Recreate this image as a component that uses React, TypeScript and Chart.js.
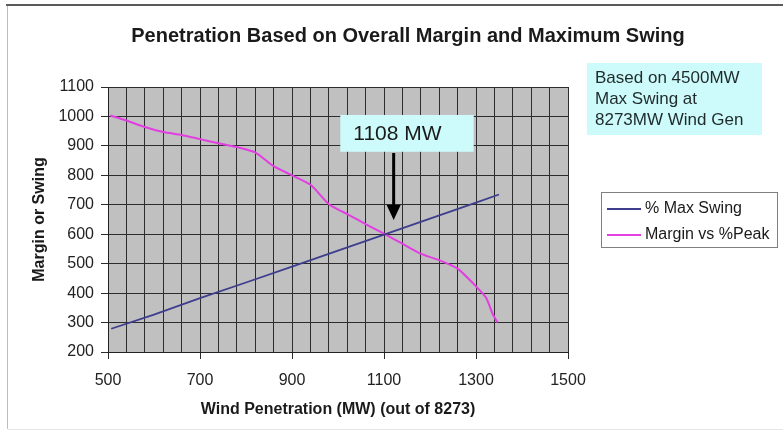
import React, { useEffect, useRef } from "react";
import { Chart, registerables } from "chart.js";

Chart.register(...registerables);

// ---- data ----
const swingX = [507, 600, 700, 800, 900, 1000, 1108, 1200, 1300, 1350];
const swingY = [279, 327, 383, 436, 490, 544, 603, 653, 707, 735];
const marginX = [505, 540, 580, 620, 660, 700, 740, 780, 820, 860, 900, 941, 981, 1023, 1062, 1102, 1141, 1181, 1221, 1260, 1300, 1322, 1336, 1347];
const marginY = [1003, 986, 964, 947, 937, 923, 909, 896, 878, 831, 800, 767, 701, 666, 633, 600, 567, 533, 511, 483, 423, 384, 330, 300];
const seriesNames = ["% Max Swing", "Margin vs %Peak"];
const seriesColors = ["#3e3e8e", "#e23ee2"];
const xMin = 500;
const xMax = 1500;
const xGridStep = 40;
const xLabelStep = 200;
const yMin = 200;
const yMax = 1100;
const yStep = 100;

const chartTitle = "Penetration Based on Overall Margin and Maximum Swing";
const xTitle = "Wind Penetration (MW) (out of 8273)";
const yTitle = "Margin or Swing";
const noteLines = ["Based on 4500MW", "Max Swing at", "8273MW Wind Gen"];
const calloutText = "1108 MW";
// callout & arrow in data units
const calloutBox = { x0: 1005, x1: 1295, y0: 880, y1: 1005 };
const arrow = { x: 1121, from: 876, to: 648 };

const FONT = '"Liberation Sans", Arial, Helvetica, sans-serif';

const toPoints = (xs: number[], ys: number[]) => xs.map((x, i) => ({ x, y: ys[i] }));

const decorPlugin = {
  id: "decor",
  beforeDraw(chart: any) {
    const { ctx, chartArea } = chart;
    ctx.save();
    ctx.fillStyle = "#ffffff";
    ctx.fillRect(0, 0, chart.width, chart.height);
    // outer frame
    ctx.strokeStyle = "#5a5a5a";
    ctx.lineWidth = 2;
    ctx.beginPath();
    ctx.moveTo(6, 5);
    ctx.lineTo(chart.width, 5);
    ctx.stroke();
    ctx.strokeStyle = "#bdbdbd";
    ctx.lineWidth = 1;
    ctx.beginPath();
    ctx.moveTo(7.5, 6);
    ctx.lineTo(7.5, 429);
    ctx.stroke();
    ctx.strokeStyle = "#e6e6e6";
    ctx.beginPath();
    ctx.moveTo(8, 429.5);
    ctx.lineTo(chart.width, 429.5);
    ctx.stroke();
    // plot background
    ctx.fillStyle = "#c0c0c0";
    ctx.fillRect(chartArea.left, chartArea.top, chartArea.right - chartArea.left, chartArea.bottom - chartArea.top);
    ctx.restore();
  },
  afterDraw(chart: any) {
    const { ctx, chartArea, scales } = chart;
    const xs = scales.x;
    const ys = scales.y;
    ctx.save();
    ctx.fillStyle = "#1a1a1a";
    ctx.textBaseline = "middle";
    // title
    ctx.font = `bold 20px ${FONT}`;
    ctx.textAlign = "center";
    ctx.fillText(chartTitle, 408, 36);
    // x title
    ctx.font = `bold 16px ${FONT}`;
    ctx.fillText(xTitle, (chartArea.left + chartArea.right) / 2, 410);
    // y title
    ctx.save();
    ctx.translate(40, (chartArea.top + chartArea.bottom) / 2);
    ctx.rotate(-Math.PI / 2);
    ctx.fillText(yTitle, 0, 0);
    ctx.restore();

    // note box
    ctx.fillStyle = "#cdfafa";
    ctx.fillRect(587, 63, 175, 72);
    ctx.fillStyle = "#1f2a2a";
    ctx.font = `17px ${FONT}`;
    ctx.textAlign = "left";
    noteLines.forEach((l, i) => ctx.fillText(l, 595, 78 + i * 21));

    // callout box
    const bx0 = xs.getPixelForValue(calloutBox.x0);
    const bx1 = xs.getPixelForValue(calloutBox.x1);
    const by0 = ys.getPixelForValue(calloutBox.y1);
    const by1 = ys.getPixelForValue(calloutBox.y0);
    ctx.fillStyle = "#cdfafa";
    ctx.fillRect(bx0, by0, bx1 - bx0, by1 - by0);
    ctx.fillStyle = "#1a1a1a";
    ctx.font = `21px ${FONT}`;
    ctx.textAlign = "left";
    ctx.fillText(calloutText, bx0 + 13, (by0 + by1) / 2 + 1);

    // arrow
    const ax = xs.getPixelForValue(arrow.x);
    const ay0 = ys.getPixelForValue(arrow.from);
    const ay1 = ys.getPixelForValue(arrow.to);
    ctx.strokeStyle = "#000";
    ctx.lineWidth = 3;
    ctx.beginPath();
    ctx.moveTo(ax, ay0);
    ctx.lineTo(ax, ay1 - 12);
    ctx.stroke();
    ctx.fillStyle = "#000";
    ctx.beginPath();
    ctx.moveTo(ax - 7, ay1 - 15);
    ctx.lineTo(ax + 7, ay1 - 15);
    ctx.lineTo(ax, ay1);
    ctx.closePath();
    ctx.fill();

    // legend
    ctx.fillStyle = "#ffffff";
    ctx.fillRect(601, 192, 176, 55);
    ctx.strokeStyle = "#808080";
    ctx.lineWidth = 1;
    ctx.strokeRect(601.5, 192.5, 176, 55);
    ctx.font = `16px ${FONT}`;
    chart.data.datasets.forEach((ds: any, i: number) => {
      const y = 209 + i * 26;
      ctx.strokeStyle = ds.borderColor;
      ctx.lineWidth = 2;
      ctx.beginPath();
      ctx.moveTo(607, y);
      ctx.lineTo(641, y);
      ctx.stroke();
      ctx.fillStyle = "#1a1a1a";
      ctx.fillText(ds.label, 645, y);
    });
    ctx.restore();
  },
};

export default function App() {
  const ref = useRef<HTMLCanvasElement | null>(null);
  useEffect(() => {
    if (!ref.current) return;
    Chart.defaults.font.family = FONT;
    const chart = new Chart(ref.current, {
      type: "line",
      data: {
        datasets: [
          {
            label: seriesNames[0],
            data: toPoints(swingX, swingY),
            borderColor: seriesColors[0],
            borderWidth: 1.8,
            pointRadius: 0,
            tension: 0,
          },
          {
            label: seriesNames[1],
            data: toPoints(marginX, marginY),
            borderColor: seriesColors[1],
            borderWidth: 2,
            pointRadius: 0,
            tension: 0.2,
          },
        ],
      },
      options: {
        animation: false,
        responsive: false,
        layout: { padding: { left: 8, right: 215, top: 87, bottom: 32 } },
        plugins: {
          legend: { display: false },
          title: { display: false },
          tooltip: { enabled: false },
        },
        scales: {
          x: {
            type: "linear",
            min: xMin,
            max: xMax,
            afterFit: (s: any) => {
              s.height = 50;
            },
            ticks: {
              stepSize: xGridStep,
              autoSkip: false,
              maxRotation: 0,
              padding: 12,
              color: "#222",
              font: { size: 16 },
              callback: (v: any) => ((v - xMin) % xLabelStep === 0 ? String(v) : ""),
            },
            grid: {
              color: "#2c2c2c",
              lineWidth: 1,
              tickLength: 7,
              tickColor: (c: any) =>
                c.tick && (c.tick.value - xMin) % xLabelStep === 0 ? "#2c2c2c" : "rgba(0,0,0,0)",
            },
            border: { color: "#222", width: 1 },
          },
          y: {
            type: "linear",
            min: yMin,
            max: yMax,
            afterFit: (s: any) => {
              s.width = 100;
            },
            ticks: {
              stepSize: yStep,
              padding: 7,
              color: "#222",
              font: { size: 16 },
              callback: (v: any) => String(v),
            },
            grid: { color: "#2c2c2c", lineWidth: 1, tickLength: 7, tickColor: "#2c2c2c" },
            border: { color: "#222", width: 1 },
          },
        },
      },
      plugins: [decorPlugin],
    } as any);
    return () => chart.destroy();
  }, []);
  return (
    <div style={{ position: "absolute", left: 0, top: 0, width: 783, height: 434, background: "#fff" }}>
      <canvas ref={ref} width={783} height={434} style={{ width: 783, height: 434, display: "block" }} />
    </div>
  );
}
